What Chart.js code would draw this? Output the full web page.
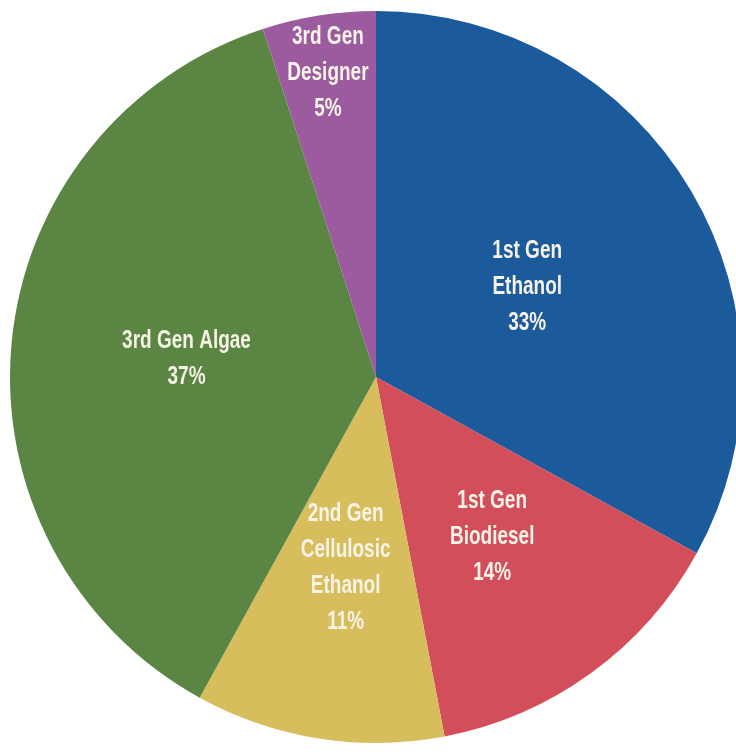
<!DOCTYPE html>
<html>
<head>
<meta charset="utf-8">
<script src="https://cdn.jsdelivr.net/npm/chart.js@4.4.0/dist/chart.umd.min.js"></script>
<style>
  html, body { margin: 0; padding: 0; background: #fff; overflow: hidden; }
  #wrap { width: 742px; height: 752px; position: relative; }
</style>
</head>
<body>
<div id="wrap"><canvas id="pie"></canvas></div>
<script>
// biofuel mix, clockwise from 12 o'clock
const categories = [
  ["1st Gen", "Ethanol"],
  ["1st Gen", "Biodiesel"],
  ["2nd Gen", "Cellulosic", "Ethanol"],
  ["3rd Gen Algae"],
  ["3rd Gen", "Designer"]
];
const shares = [33, 14, 11, 37, 5];

const colors = ["#1b5a9b", "#d24e5b", "#d8bd5c", "#5a8543", "#9c5b9f"];
// how far out (fraction of radius) each label sits
const labelRadius = [0.48, 0.54, 0.53, 0.52, 0.84];

const sliceLabels = {
  id: "sliceLabels",
  afterDatasetsDraw(chart) {
    const ctx = chart.ctx;
    const meta = chart.getDatasetMeta(0);
    const squeeze = 0.76; // fake a condensed face
    const lineH = 36;
    meta.data.forEach((arc, i) => {
      const p = arc.getProps(["x", "y", "startAngle", "endAngle", "outerRadius"]);
      const mid = (p.startAngle + p.endAngle) / 2;
      const r = p.outerRadius * labelRadius[i];
      const cx = p.x + Math.cos(mid) * r;
      const cy = p.y + Math.sin(mid) * r;
      const lines = categories[i].concat([shares[i] + "%"]);
      const top = cy - (lines.length - 1) * lineH / 2;
      ctx.save();
      ctx.translate(cx, 0);
      ctx.scale(squeeze, 1);
      ctx.fillStyle = "#f7f3e6";
      ctx.font = "bold 25px 'Liberation Sans', Arial, sans-serif";
      ctx.textAlign = "center";
      ctx.textBaseline = "middle";
      lines.forEach((t, k) => ctx.fillText(t, 0, top + k * lineH));
      ctx.restore();
    });
  }
};

new Chart(document.getElementById("pie"), {
  type: "pie",
  data: {
    labels: categories.map((c) => c.join(" ")),
    datasets: [{
      data: shares,
      backgroundColor: colors,
      borderWidth: 0
    }]
  },
  options: {
    responsive: true,
    maintainAspectRatio: false,
    animation: false,
    layout: { padding: { left: 10, right: 0, top: 11, bottom: 9 } },
    plugins: {
      legend: { display: false },
      tooltip: { enabled: false }
    }
  },
  plugins: [sliceLabels]
});
</script>
</body>
</html>
